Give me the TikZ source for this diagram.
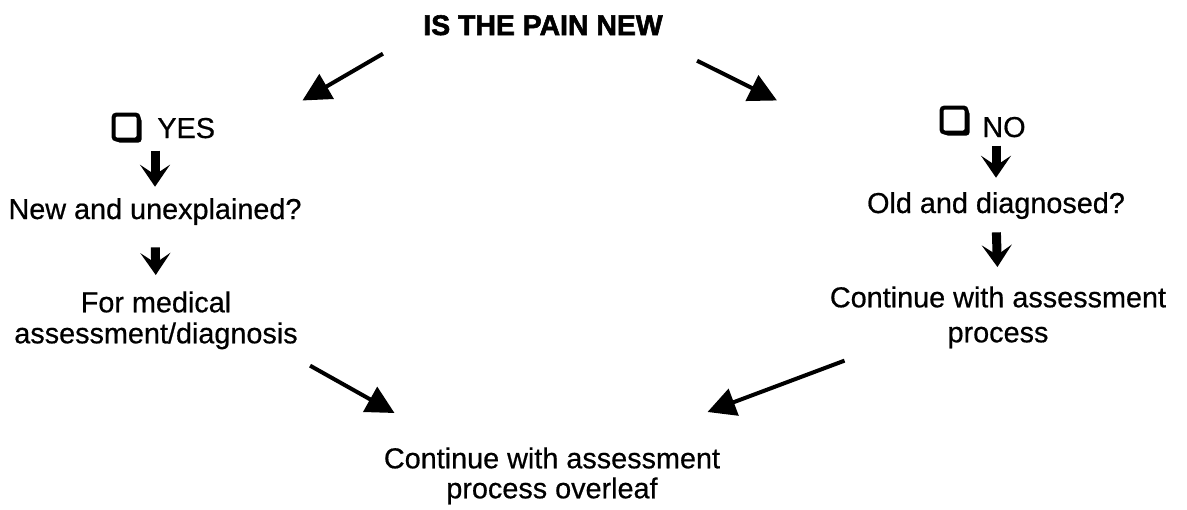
\documentclass[tikz,border=0pt]{standalone}
\usepackage{fontspec}
\setmainfont{Liberation Sans}[FakeBold=0.6, BoldFeatures={FakeBold=2}]
\usetikzlibrary{arrows.meta, positioning, shadows}

\begin{document}
\begin{tikzpicture}[
        x=0.5pt, y=-0.5pt,
        txt/.style={inner sep=0pt, font=\fontsize{14.4}{15.5}\selectfont, align=center},
        chk/.style={rectangle, draw, fill=white, line width=2pt, minimum size=12.5pt, inner sep=0pt, rounded corners=1.5pt,
            drop shadow={opacity=1, fill=black, shadow xshift=1.5pt, shadow yshift=-1.5pt}},
        bigarrow/.style={-{Triangle[length=14pt, width=14pt]}, line width=2pt},
        down/.style={-{Stealth[length=11pt, width=15pt, inset=5pt]}, line width=4.5pt}
    ]
    \useasboundingbox (0,0) rectangle (1187,509);

    % Question
    \node (title) [txt, anchor=base, font=\fontsize{14.2}{15.5}\bfseries] at (543,35) {IS THE PAIN NEW};

    % Yes branch
    \node (ybox) [chk] at (126,127) {};
    \node (yes) [txt, anchor=base west] at (157,138) {YES};
    \node (newq) [txt, anchor=base] at (155,219) {New and unexplained?};
    \node (formed) [txt, anchor=north] at (156,291) {For medical\\assessment/diagnosis};

    % No branch
    \node (nbox) [chk] at (954,120) {};
    \node (no) [txt, anchor=base west] at (982,137) {NO};
    \node (oldq) [txt, anchor=base] at (996,213) {Old and diagnosed?};
    \node (ctr) [txt, anchor=north, font=\fontsize{14.4}{17.5}\selectfont] at (998,286) {Continue with assessment\\process};

    % Result
    \node (final) [txt, anchor=north, font=\fontsize{14.4}{15}\selectfont] at (552,447) {Continue with assessment\\process overleaf};

    % Arrows
    \draw [bigarrow] ([shift={(-40,18)}]title.south west) -- ([shift={(87,-17)}]yes.north east);
    \draw [bigarrow] ([shift={(34,25)}]title.south east) -- ([shift={(-205,-16)}]no.north west);
    \draw [bigarrow] ([shift={(12,16)}]formed.south east) -- ([shift={(11,-34)}]final.north west);
    \draw [bigarrow] ([shift={(15,12)}]ctr.south west) -- ([shift={(-13,-35)}]final.north east);

    \draw [down, shorten <=6pt, shorten >=5.5pt] (newq.north |- yes.south) -- (newq.north);
    \draw [down, shorten <=11pt, shorten >=8pt] (newq.south) -- (formed.north);
    \draw [down, shorten <=4pt, shorten >=7pt] (oldq.north |- no.south) -- (oldq.north);
    \draw [down, shorten <=6.5pt, shorten >=9.5pt] (oldq.south) -- (ctr.north);

\end{tikzpicture}
\end{document}
